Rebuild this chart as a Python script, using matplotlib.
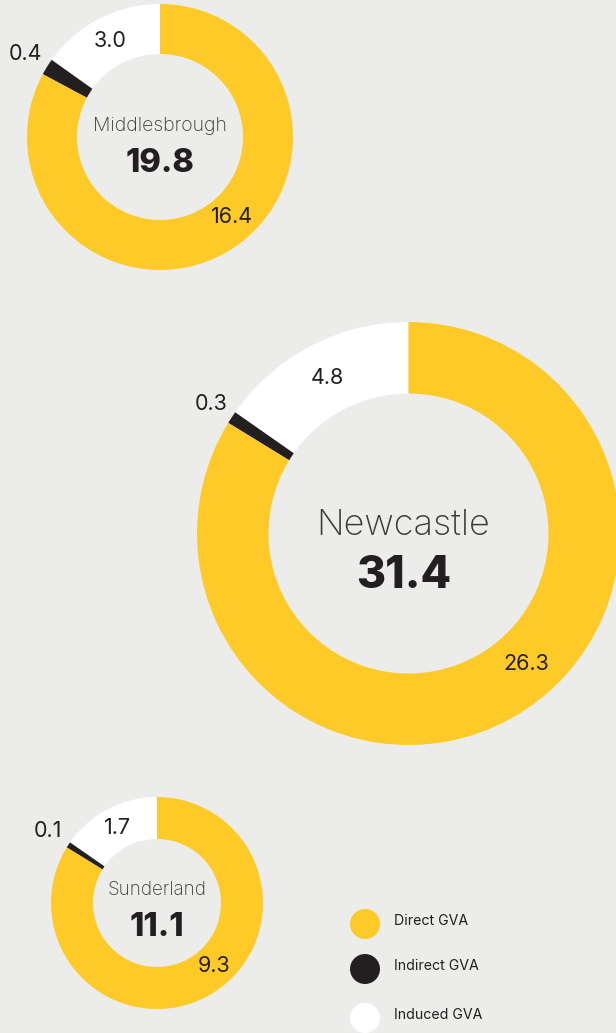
import numpy as np
import matplotlib.pyplot as plt
from matplotlib.patches import Circle

# GVA by city (direct / indirect / induced) and total
cities = ['Middlesbrough', 'Newcastle', 'Sunderland']
direct = [16.4, 26.3, 9.3]
indirect = [0.4, 0.3, 0.1]
induced = [3.0, 4.8, 1.7]
totals = [19.8, 31.4, 11.1]

legend_labels = ['Direct GVA', 'Indirect GVA', 'Induced GVA']

# layout in pixels (y measured from the top of the image)
W, H = 616, 1033
centres = [(160, 137), (408.5, 533.5), (157, 903)]
outer = [133, 211.5, 106]
inner = [83, 140, 64]
name_size = [14, 26, 13.5]
total_size = [23.5, 32, 23.5]
name_dy = [-11, -8, -13]
total_dy = [26, 42, 24]
text_dx = [0, -5, 0]

bg = '#ecedea'
yellow = '#fdca27'
black = '#231f20'
white = '#ffffff'
colors = [white, black, yellow]

plt.rcParams['font.family'] = ['Inter', 'DejaVu Sans']

fig = plt.figure(figsize=(W / 100, H / 100), dpi=100, facecolor=bg)
ax = fig.add_axes([0, 0, 1, 1])
ax.set_facecolor(bg)

for i, city in enumerate(cities):
    cx, cy = centres[i][0], H - centres[i][1]
    R = outer[i]
    vals = [induced[i], indirect[i], direct[i]]
    ax.pie(vals, colors=colors, startangle=90, counterclock=True,
           center=(cx, cy), radius=R,
           wedgeprops=dict(width=R - inner[i], edgecolor='none', linewidth=0))
    frac = np.cumsum([0] + vals) / sum(vals) * 360
    mid_r = (R + inner[i]) / 2
    # induced label inside the white ring
    a = np.radians(90 + (frac[0] + frac[1]) / 2)
    ax.text(cx + mid_r * np.cos(a), cy + mid_r * np.sin(a), f'{induced[i]:.1f}',
            ha='center', va='center', fontsize=15.5, color=black)
    # indirect label outside
    a = np.radians(90 + (frac[1] + frac[2]) / 2)
    ax.text(cx + (R + 25) * np.cos(a), cy + (R + 25) * np.sin(a), f'{indirect[i]:.1f}',
            ha='center', va='center', fontsize=15.5, color=black)
    # direct label on the yellow ring
    a = np.radians(-48)
    ax.text(cx + mid_r * np.cos(a), cy + mid_r * np.sin(a), f'{direct[i]:.1f}',
            ha='center', va='center', fontsize=15.5, color=black)
    ax.text(cx + text_dx[i], cy - name_dy[i], city, ha='center', va='center',
            fontsize=name_size[i], color='#3a3a3a', fontweight='light')
    ax.text(cx + text_dx[i], cy - total_dy[i], f'{totals[i]:.1f}', ha='center', va='center',
            fontsize=total_size[i], color=black, fontweight='heavy')

# legend
leg_y = [924, 969, 1018]
for lab, col, ly in zip(legend_labels, [yellow, black, white], leg_y):
    ax.add_patch(Circle((365, H - ly), 15, color=col, lw=0))
    ax.text(394, H - ly + 3, lab, ha='left', va='center', fontsize=10.2, color=black)

ax.set_xlim(0, W)
ax.set_ylim(0, H)
ax.set_aspect('equal')
ax.axis('off')

fig.savefig('out.png', dpi=100, facecolor=bg)
